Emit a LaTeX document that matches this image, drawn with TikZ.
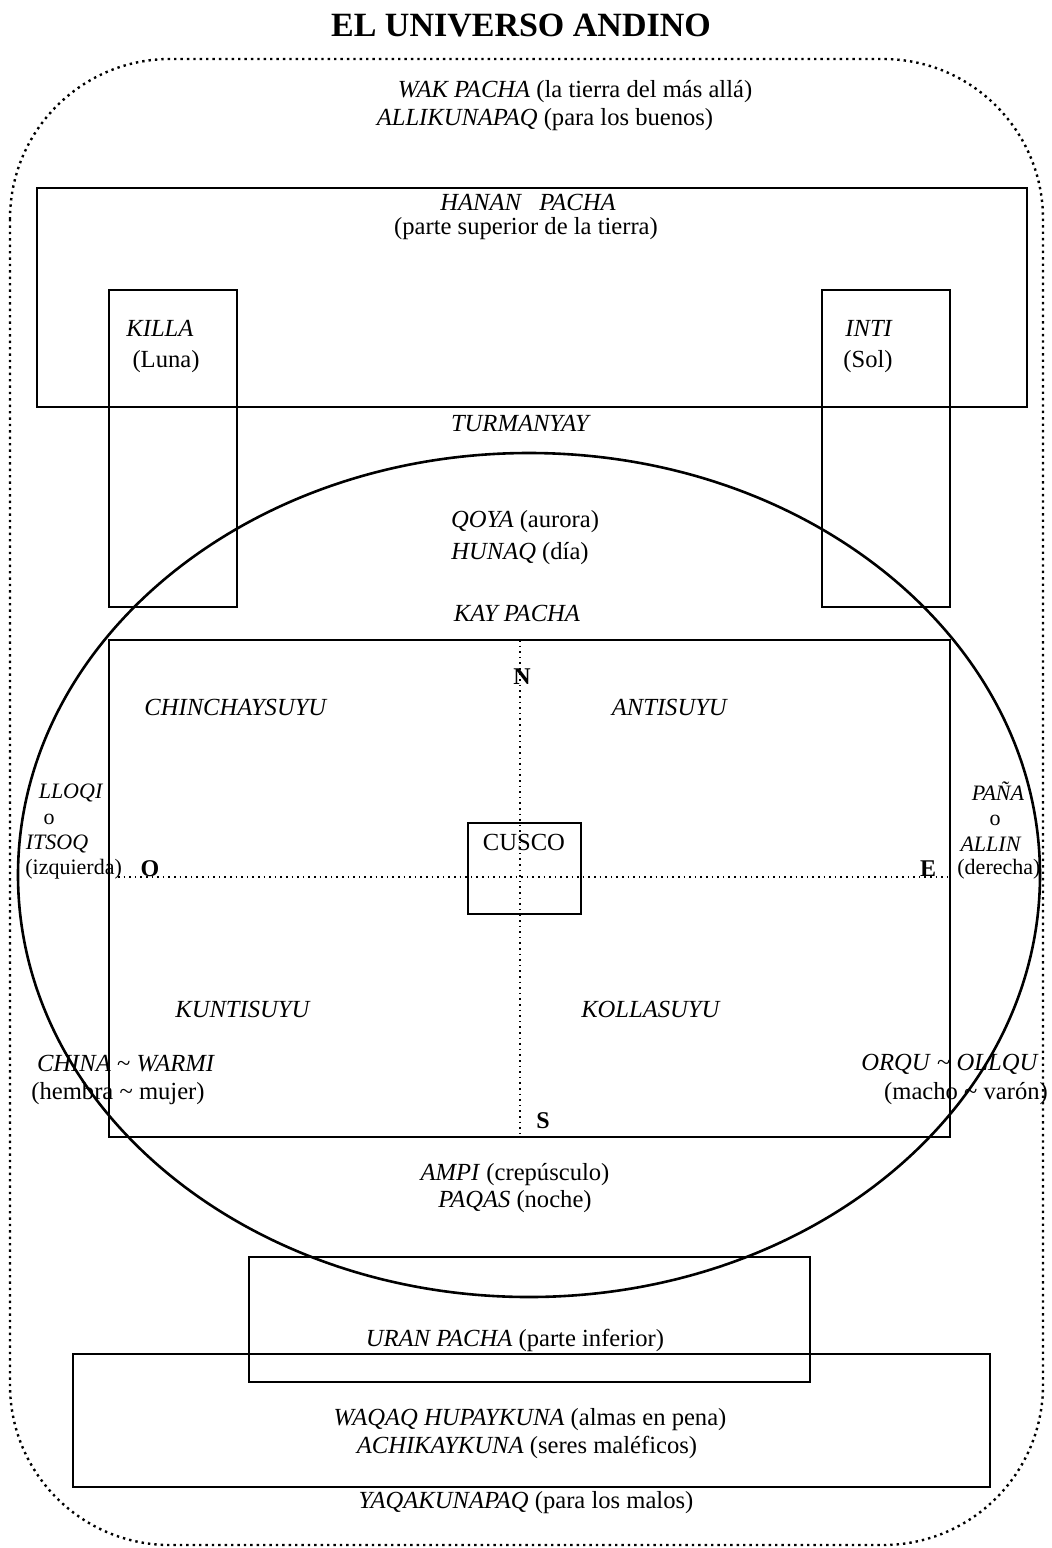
\documentclass[tikz,border=0pt]{standalone}
\usepackage{fontspec}
\setmainfont{Liberation Serif}
\begin{document}
\begin{tikzpicture}[x=0.5pt,y=-0.5pt,
  box/.style={draw=black,line width=1.1pt},
  outerdots/.style={draw=black,line width=1.2pt,dotted},
  axisdots/.style={draw=black,line width=0.8pt,dotted},
  lbl/.style={inner sep=0pt,font=\fontsize{12.3}{14}\selectfont},
  side/.style={inner sep=0pt,font=\fontsize{11}{13}\selectfont},
  card/.style={inner sep=0pt,font=\fontsize{12}{14}\selectfont\bfseries}]
\useasboundingbox (0,0) rectangle (1052,1548);
% title
\node[inner sep=0pt,font=\fontsize{17}{20}\selectfont\bfseries] (title) at (521,25) {EL UNIVERSO ANDINO};
% outer dotted rounded frame
\draw[outerdots,rounded corners=80pt] (10,59) rectangle (1043,1545);
% hanan pacha
\draw[box] (37,188) rectangle (1027,407);
% killa / inti
\draw[box] (109,290) rectangle (237,607);
\draw[box] (822,290) rectangle (950,607);
% ellipse
\draw[draw=black,line width=1.3pt] (529,875) ellipse [x radius=255.5pt, y radius=211pt];
% kay pacha
\draw[box] (109,640) rectangle (950,1137);
% axes
\draw[axisdots] (520,640) -- (520,1137);
\draw[axisdots] (118,877) -- (948,877);
% cusco
\draw[box] (468,823) rectangle (581,914);
% uran pacha
\draw[box] (249,1257) rectangle (810,1382);
\draw[box] (73,1354) rectangle (990,1487);
% texts
\node[lbl] (wak) at (575,92) {\textit{WAK PACHA} (la tierra del más allá)};
\node[lbl] (alli) at (545,120) {\textit{ALLIKUNAPAQ} (para los buenos)};
\node[lbl] (hanan) at (528,202) {\textit{HANAN\ \ \ PACHA}};
\node[lbl] (hanan2) at (526,229) {(parte superior de la tierra)};
\node[lbl] (killa) at (160,328) {\textit{KILLA}};
\node[lbl] (luna) at (166,362) {(Luna)};
\node[lbl,anchor=west] (inti) at (845,328) {\textit{INTI}};
\node[lbl,anchor=west] (sol) at (843,362) {(Sol)};
\node[lbl] (turm) at (521,423) {\textit{TURMANYAY}};
\node[lbl] (qoya) at (525,522) {\textit{QOYA} (aurora)};
\node[lbl] (hunaq) at (520,554) {\textit{HUNAQ} (día)};
\node[lbl] (kay) at (517,613) {\textit{KAY PACHA}};
\node[card] (N) at (522,677) {N};
\node[lbl] (chin) at (236,707) {\textit{CHINCHAYSUYU}};
\node[lbl] (anti) at (670,707) {\textit{ANTISUYU}};
\node[side] (lloqi) at (71,793) {\textit{LLOQI}};
\node[side] (o1) at (49,819) {o};
\node[side] (itsoq) at (57,844) {\textit{ITSOQ}};
\node[side,anchor=west] (izq) at (25,869) {(izquierda)};
\node[card] (O) at (150,869) {O};
\node[lbl] (cusco) at (524,842) {CUSCO};
\node[card] (E) at (928,869) {E};
\node[side] (pana) at (998,791) {\textit{PAÑA}};
\node[side] (o2) at (995,820) {o};
\node[side] (allin) at (991,844) {\textit{ALLIN}};
\node[side,anchor=west] (der) at (957,869) {(derecha)};
\node[lbl] (kunti) at (243,1009) {\textit{KUNTISUYU}};
\node[lbl] (kolla) at (651,1009) {\textit{KOLLASUYU}};
\node[lbl] (china) at (126,1064) {\textit{CHINA} \textasciitilde{} \textit{WARMI}};
\node[lbl] (hembra) at (118,1094) {(hembra \textasciitilde{} mujer)};
\node[lbl] (orqu) at (950,1064) {\textit{ORQU} \textasciitilde{} \textit{OLLQU}};
\node[lbl] (macho) at (966,1094) {(macho \textasciitilde{} varón)};
\node[card] (S) at (543,1121) {S};
\node[lbl] (ampi) at (515,1175) {\textit{AMPI} (crepúsculo)};
\node[lbl] (paqas) at (515,1202) {\textit{PAQAS} (noche)};
\node[lbl] (uran) at (515,1340) {\textit{URAN PACHA} (parte inferior)};
\node[lbl] (waqaq) at (530,1420) {\textit{WAQAQ HUPAYKUNA} (almas en pena)};
\node[lbl] (achi) at (527,1447) {\textit{ACHIKAYKUNA} (seres maléficos)};
\node[lbl] (yaqa) at (526,1503) {\textit{YAQAKUNAPAQ} (para los malos)};
\end{tikzpicture}
\end{document}
